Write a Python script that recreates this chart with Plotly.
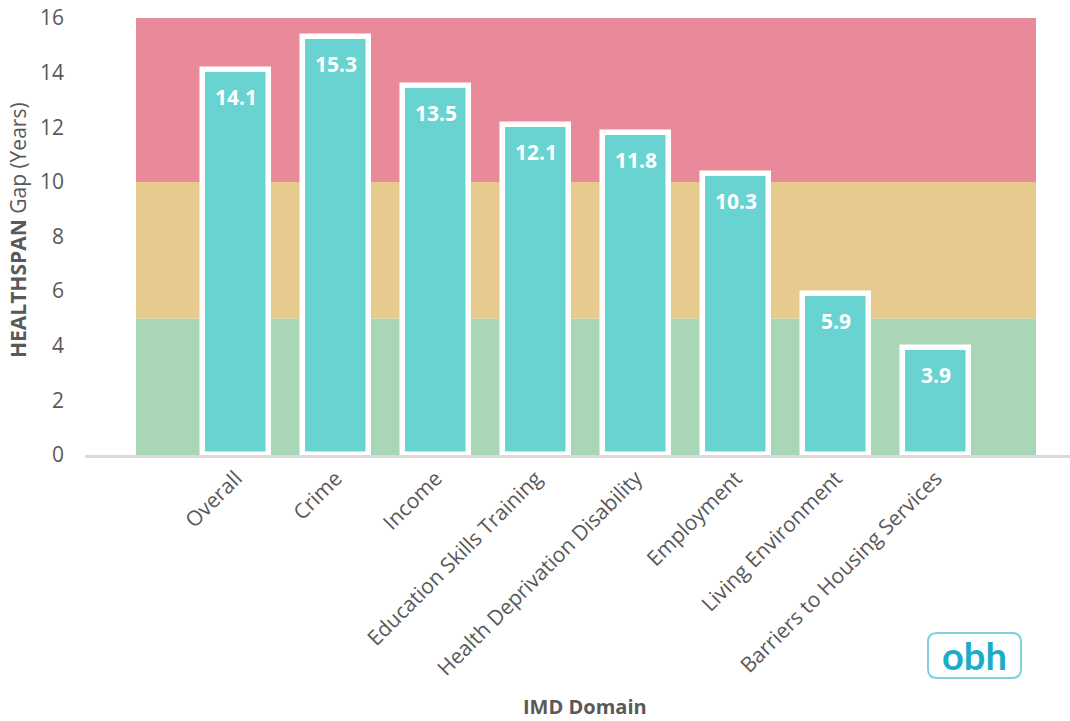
import plotly.graph_objects as go

# IMD domains and the healthspan gap (years) for each
domains = [
    "Overall",
    "Crime",
    "Income",
    "Education Skills Training",
    "Health Deprivation Disability",
    "Employment",
    "Living Environment",
    "Barriers to Housing Services",
]
gap_years = [14.1, 15.3, 13.5, 12.1, 11.8, 10.3, 5.9, 3.9]

# Background bands (lower, upper, colour)
band_lower = [0, 5, 10]
band_upper = [5, 10, 16]
band_colors = ["#A8D6B6", "#E6CA8E", "#E98A9B"]

y_ticks = [0, 2, 4, 6, 8, 10, 12, 14, 16]

x_pos = list(range(len(domains)))
font_family = "Open Sans, Segoe UI, sans-serif"
axis_text = "#595959"

fig = go.Figure()

fig.add_trace(go.Bar(
    x=x_pos,
    y=gap_years,
    width=0.655,
    marker=dict(color="#69D3D2", line=dict(color="white", width=5.5)),
    hoverinfo="x+y",
    showlegend=False,
))

shapes = []
for lo, hi, col in zip(band_lower, band_upper, band_colors):
    shapes.append(dict(
        type="rect", xref="x", yref="y",
        x0=-1.0, x1=8.0, y0=lo, y1=hi,
        fillcolor=col, line=dict(width=0), layer="below",
    ))

# Logo box (rounded rectangle) below the plot, bottom right
W, H, L, T = 985, 437, 85, 18


def px(xp):
    return (xp - L) / W


def py(yp):
    return (T + H - yp) / H


x0, x1, y0, y1, r = 928, 1021, 633, 678, 9
path = (
    f"M {px(x0 + r)},{py(y0)} L {px(x1 - r)},{py(y0)} "
    f"Q {px(x1)},{py(y0)} {px(x1)},{py(y0 + r)} "
    f"L {px(x1)},{py(y1 - r)} Q {px(x1)},{py(y1)} {px(x1 - r)},{py(y1)} "
    f"L {px(x0 + r)},{py(y1)} Q {px(x0)},{py(y1)} {px(x0)},{py(y1 - r)} "
    f"L {px(x0)},{py(y0 + r)} Q {px(x0)},{py(y0)} {px(x0 + r)},{py(y0)} Z"
)
shapes.append(dict(type="path", xref="paper", yref="paper", path=path,
                   line=dict(color="#7FD0DF", width=2), fillcolor="white"))

annotations = []
for xi, v in zip(x_pos, gap_years):
    annotations.append(dict(
        x=xi, y=v, xref="x", yref="y",
        text=f"<b>{v:.1f}</b>", showarrow=False,
        yanchor="top", yshift=-11,
        font=dict(family=font_family, size=21, color="white"),
    ))

annotations.append(dict(
    x=px(18), y=py(230), xref="paper", yref="paper",
    text="<b>HEALTHSPAN</b> Gap (Years)", textangle=-90, showarrow=False,
    xanchor="center", yanchor="middle",
    font=dict(family=font_family, size=21, color=axis_text),
))
annotations.append(dict(
    x=px(585), y=py(706), xref="paper", yref="paper",
    text="<b>IMD Domain</b>", showarrow=False,
    xanchor="center", yanchor="middle",
    font=dict(family=font_family, size=20, color=axis_text),
))
annotations.append(dict(
    x=px((x0 + x1) / 2), y=py((y0 + y1) / 2 - 1), xref="paper", yref="paper",
    text="<b>obh</b>", showarrow=False,
    xanchor="center", yanchor="middle",
    font=dict(family="Lato, sans-serif", size=38, color="#1AACC8"),
))

fig.update_layout(
    width=1070, height=721,
    margin=dict(l=L, r=0, t=T, b=721 - T - H),
    paper_bgcolor="white", plot_bgcolor="white",
    shapes=shapes, annotations=annotations,
    bargap=0,
    xaxis=dict(
        range=[-1.51, 8.34],
        tickvals=x_pos, ticktext=domains, tickangle=-45,
        tickfont=dict(family=font_family, size=21, color=axis_text),
        showgrid=False, zeroline=False,
        showline=True, linecolor="#D9D9D9", linewidth=2.5,
        ticks="", fixedrange=True,
    ),
    yaxis=dict(
        range=[0, 16], tickvals=y_ticks,
        tickfont=dict(family=font_family, size=21, color=axis_text),
        showgrid=False, zeroline=False, showline=False,
        ticks="", ticklabelstandoff=20,
    ),
)

fig.write_html("out.html")
